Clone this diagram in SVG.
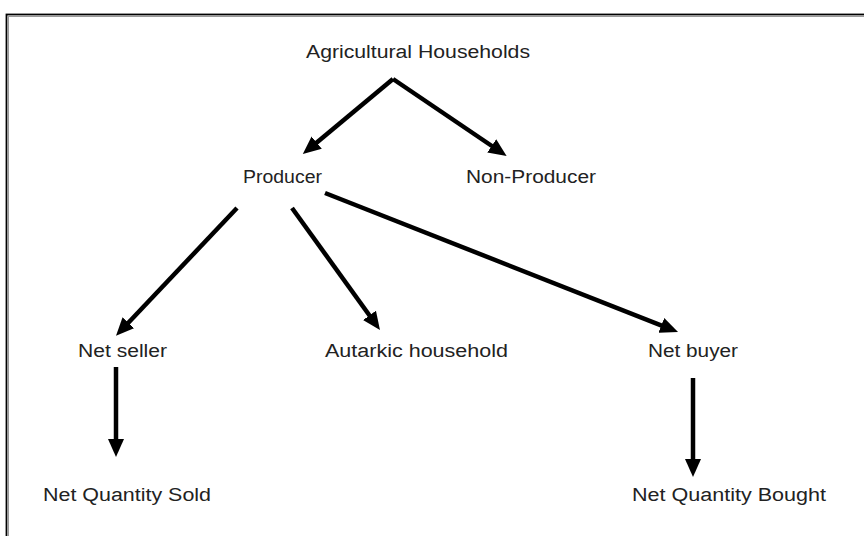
<svg xmlns="http://www.w3.org/2000/svg" width="864" height="536" viewBox="0 0 864 536">
<defs>
<style>
.lbl{font-family:"Liberation Sans","Noto Sans",Arial,sans-serif;font-size:18px;fill:#222}
.con line{stroke:#000;stroke-width:4.5;fill:none;marker-end:url(#ah)}
</style>
<marker id="ah" markerUnits="userSpaceOnUse" markerWidth="18" markerHeight="16" viewBox="0 0 18 16" refX="10" refY="8" orient="auto">
<path d="M0,0 L18,8 L0,16 z" fill="#000"/>
</marker>
</defs>
<rect x="0" y="0" width="864" height="536" fill="#fff"/>
<rect x="6.5" y="14.5" width="880" height="560" fill="none" stroke="#000" stroke-width="1.8"/>
<rect x="8.5" y="16.5" width="880" height="560" fill="none" stroke="#999" stroke-width="1"/>
<g class="con">
<line x1="393" y1="79" x2="309" y2="149"/>
<line x1="393" y1="79" x2="500" y2="151.5"/>
<line x1="237" y1="208" x2="121.5" y2="330"/>
<line x1="292" y1="208" x2="375.3" y2="323.5"/>
<line x1="325" y1="193" x2="670.6" y2="329.1"/>
<line x1="116" y1="367" x2="116" y2="449"/>
<line x1="693" y1="378" x2="693" y2="469"/>
</g>
<g id="n-agri"><text class="lbl" x="306" y="58" textLength="224" lengthAdjust="spacingAndGlyphs">Agricultural Households</text></g>
<g id="n-producer"><text class="lbl" x="243" y="183" textLength="79" lengthAdjust="spacingAndGlyphs">Producer</text></g>
<g id="n-nonproducer"><text class="lbl" x="466" y="183" textLength="130" lengthAdjust="spacingAndGlyphs">Non-Producer</text></g>
<g id="n-netseller"><text class="lbl" x="78" y="357" textLength="89" lengthAdjust="spacingAndGlyphs">Net seller</text></g>
<g id="n-autarkic"><text class="lbl" x="325" y="357" textLength="183" lengthAdjust="spacingAndGlyphs">Autarkic household</text></g>
<g id="n-netbuyer"><text class="lbl" x="648" y="357" textLength="90" lengthAdjust="spacingAndGlyphs">Net buyer</text></g>
<g id="n-qsold"><text class="lbl" x="43" y="501" textLength="168" lengthAdjust="spacingAndGlyphs">Net Quantity  Sold</text></g>
<g id="n-qbought"><text class="lbl" x="632" y="501" textLength="194" lengthAdjust="spacingAndGlyphs">Net Quantity  Bought</text></g>
</svg>
